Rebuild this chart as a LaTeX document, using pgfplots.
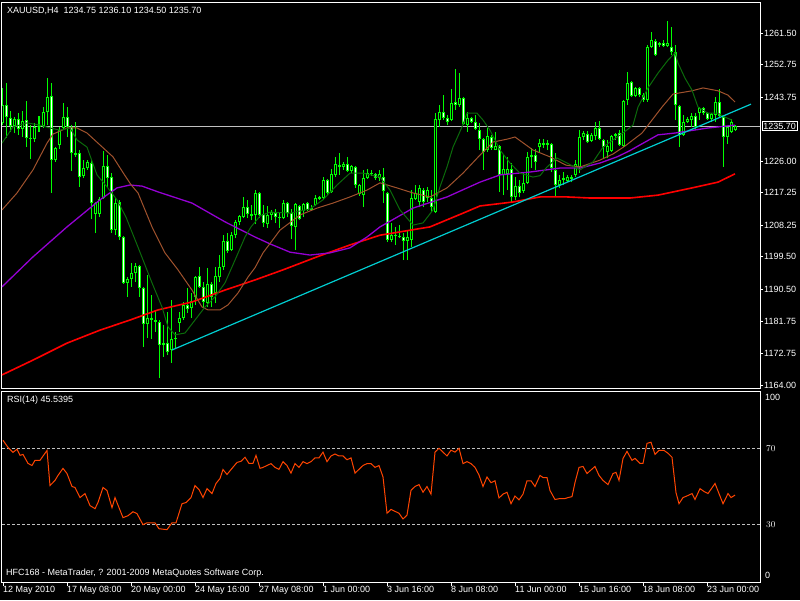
\documentclass[border=0pt]{standalone}
\usepackage{pgfplots}
\usepackage{pgfplotstable}
\pgfplotsset{compat=1.18}
\usepackage{fontspec}
\setmainfont{Liberation Sans}
\definecolor{lime}{HTML}{00FF00}
\definecolor{mafast}{HTML}{0B6A0B}
\definecolor{mamid}{HTML}{A0522D}
\definecolor{maslow}{HTML}{9400D3}
\definecolor{malong}{HTML}{FF0000}
\definecolor{trend}{HTML}{00CED1}
\definecolor{rsicol}{HTML}{FF4500}
\definecolor{silv}{HTML}{C0C0C0}
\newcommand{\mt}{\fontsize{9}{10}\selectfont}

\pgfplotstableread{
i O H L C
0 1236.6 1246.3 1236.0 1241.6
1 1241.6 1247.7 1232.4 1238.2
2 1238.0 1239.9 1234.1 1235.7
3 1235.7 1238.2 1233.8 1237.7
4 1237.7 1239.3 1233.3 1234.9
5 1234.9 1239.9 1232.7 1237.1
6 1237.4 1242.7 1229.9 1232.4
7 1232.4 1236.0 1226.6 1232.1
8 1232.1 1236.6 1231.3 1235.5
9 1235.5 1238.5 1234.1 1235.8
10 1235.7 1241.0 1235.2 1239.6
11 1239.6 1249.0 1236.0 1243.8
12 1244.1 1247.7 1217.2 1226.3
13 1226.3 1229.9 1225.8 1229.7
14 1230.5 1235.5 1229.4 1234.6
15 1235.2 1242.1 1235.0 1238.2
16 1238.2 1241.0 1232.7 1235.5
17 1235.5 1236.0 1223.3 1228.3
18 1228.3 1236.9 1227.2 1227.7
19 1228.3 1229.1 1218.9 1221.6
20 1221.9 1226.3 1221.3 1224.1
21 1224.1 1226.3 1223.6 1225.8
22 1225.5 1226.3 1210.0 1214.4
23 1211.4 1214.7 1206.1 1214.4
24 1211.4 1216.1 1210.5 1215.5
25 1215.8 1228.8 1215.6 1224.7
26 1224.7 1227.7 1218.6 1221.3
27 1221.6 1222.7 1206.1 1206.9
28 1206.9 1215.8 1205.5 1214.4
29 1214.7 1215.3 1204.2 1205.0
30 1205.0 1205.3 1192.0 1192.3
31 1192.3 1193.9 1188.4 1193.4
32 1193.4 1197.8 1191.2 1195.0
33 1195.0 1197.8 1192.5 1197.0
34 1197.0 1197.2 1188.4 1190.9
35 1190.9 1191.2 1174.5 1180.9
36 1180.9 1194.5 1177.0 1182.6
37 1182.6 1188.9 1176.8 1182.0
38 1182.0 1184.8 1178.7 1181.5
39 1181.5 1182.0 1165.9 1175.1
40 1175.1 1180.6 1171.8 1175.6
41 1175.6 1184.2 1172.3 1173.1
42 1173.7 1187.6 1170.1 1176.8
43 1176.8 1178.7 1174.3 1177.1
44 1181.2 1184.2 1178.7 1182.6
45 1182.6 1187.0 1182.0 1186.2
46 1186.2 1190.9 1184.0 1185.1
47 1185.3 1189.5 1182.6 1187.3
48 1188.4 1194.2 1186.2 1194.0
49 1194.2 1196.7 1190.9 1191.2
50 1191.2 1192.5 1185.6 1187.0
51 1186.7 1196.4 1185.6 1192.0
52 1192.0 1192.5 1185.6 1188.4
53 1189.5 1196.7 1186.7 1194.2
54 1193.9 1200.0 1192.5 1196.7
55 1196.7 1205.5 1195.9 1203.9
56 1203.9 1206.1 1200.6 1201.1
57 1201.4 1206.4 1201.1 1205.5
58 1205.5 1209.7 1204.7 1209.2
59 1209.2 1211.1 1208.3 1210.8
60 1210.5 1216.1 1210.3 1213.3
61 1213.3 1215.3 1210.3 1211.4
62 1211.4 1213.9 1209.7 1210.8
63 1211.1 1218.0 1208.6 1217.2
64 1217.2 1217.5 1210.3 1211.1
65 1211.4 1213.9 1207.8 1208.9
66 1208.6 1213.6 1207.5 1211.1
67 1211.1 1212.5 1209.7 1211.9
68 1211.6 1212.8 1208.9 1210.5
69 1210.5 1211.9 1207.5 1210.2
70 1210.3 1215.3 1210.0 1214.4
71 1214.4 1214.7 1210.5 1211.6
72 1211.6 1212.8 1204.4 1208.0
73 1207.8 1214.4 1201.4 1214.1
74 1213.6 1213.9 1209.7 1210.0
75 1212.2 1214.4 1210.5 1214.2
76 1214.4 1214.6 1212.2 1212.5
77 1212.5 1213.9 1212.3 1213.0
78 1213.9 1216.6 1213.6 1215.8
79 1215.5 1216.4 1215.3 1216.1
80 1215.8 1221.6 1215.3 1220.8
81 1220.8 1221.1 1216.6 1217.2
82 1217.5 1223.8 1217.3 1222.5
83 1222.2 1227.2 1221.6 1225.2
84 1224.9 1228.3 1222.2 1224.4
85 1224.4 1225.8 1223.6 1225.2
86 1225.2 1227.2 1223.0 1223.3
87 1223.3 1224.9 1222.7 1224.7
88 1224.4 1224.6 1218.6 1219.4
89 1216.9 1219.6 1216.4 1219.4
90 1216.6 1223.6 1213.3 1221.3
91 1221.3 1223.8 1221.1 1222.7
92 1222.7 1223.6 1221.9 1222.4
93 1222.5 1222.7 1220.8 1221.3
94 1221.3 1223.6 1220.5 1222.5
95 1221.6 1224.1 1214.4 1217.7
96 1217.2 1217.5 1203.6 1204.2
97 1204.2 1208.9 1203.6 1205.5
98 1205.5 1207.8 1202.8 1205.2
99 1205.3 1208.3 1204.7 1205.0
100 1205.0 1206.1 1198.6 1203.9
101 1203.9 1207.0 1198.6 1205.0
102 1204.2 1218.0 1202.2 1215.8
103 1215.5 1219.4 1215.3 1217.2
104 1214.7 1219.4 1213.3 1218.6
105 1218.0 1218.6 1213.3 1214.7
106 1215.8 1218.9 1214.7 1218.0
107 1215.8 1218.0 1211.9 1213.3
108 1211.9 1239.3 1211.6 1237.7
109 1237.4 1241.6 1235.5 1239.6
110 1239.6 1244.3 1237.4 1238.0
111 1238.0 1238.8 1236.0 1236.9
112 1237.4 1246.0 1237.0 1242.1
113 1242.4 1251.5 1240.2 1241.6
114 1241.6 1250.4 1241.0 1243.5
115 1243.5 1243.8 1236.0 1236.2
116 1236.0 1239.6 1234.1 1238.0
117 1238.0 1238.2 1236.6 1236.9
118 1236.9 1238.8 1234.6 1234.8
119 1234.6 1236.6 1229.1 1232.1
120 1232.1 1232.4 1223.6 1228.5
121 1229.1 1235.2 1228.5 1233.0
122 1232.7 1233.3 1229.1 1229.7
123 1229.1 1234.1 1229.0 1230.2
124 1230.2 1230.5 1217.5 1222.2
125 1222.2 1227.7 1216.6 1223.8
126 1222.5 1227.2 1218.0 1223.8
127 1223.8 1225.5 1214.4 1216.1
128 1216.1 1221.6 1215.3 1219.1
129 1219.1 1220.8 1216.1 1217.2
130 1217.7 1223.0 1217.2 1220.0
131 1220.0 1228.5 1219.8 1227.2
132 1227.2 1229.7 1224.1 1227.7
133 1227.7 1229.4 1223.6 1225.8
134 1229.9 1232.1 1228.3 1231.0
135 1231.0 1232.1 1229.7 1230.5
136 1230.5 1231.9 1229.1 1231.0
137 1230.8 1231.0 1223.0 1224.1
138 1223.6 1228.3 1216.1 1219.4
139 1219.4 1222.2 1218.6 1220.8
140 1220.8 1223.0 1219.4 1221.3
141 1220.5 1222.2 1220.2 1221.6
142 1221.1 1222.2 1220.2 1221.6
143 1222.2 1226.3 1221.6 1225.2
144 1224.4 1234.6 1222.7 1232.7
145 1232.7 1234.4 1231.9 1233.8
146 1233.5 1234.4 1231.0 1231.3
147 1231.6 1233.8 1231.3 1233.3
148 1233.0 1236.9 1231.9 1235.2
149 1235.2 1237.1 1231.9 1232.1
150 1231.9 1232.1 1226.9 1229.9
151 1228.5 1231.9 1226.9 1230.2
152 1228.8 1233.3 1228.5 1233.0
153 1233.0 1233.8 1231.9 1233.5
154 1233.8 1234.6 1230.2 1230.4
155 1230.2 1243.0 1230.0 1242.7
156 1242.9 1250.7 1241.6 1247.7
157 1247.9 1248.1 1243.8 1244.1
158 1244.1 1246.6 1243.9 1246.3
159 1246.3 1246.6 1243.8 1244.3
160 1244.3 1244.9 1242.4 1242.9
161 1242.9 1258.2 1242.4 1257.6
162 1257.6 1261.8 1257.4 1259.6
163 1259.3 1259.8 1255.1 1255.4
164 1258.2 1259.0 1257.6 1258.7
165 1258.7 1259.6 1257.6 1257.9
166 1257.9 1264.8 1257.6 1258.7
167 1257.6 1263.2 1255.4 1256.2
168 1256.2 1258.2 1237.4 1241.6
169 1241.3 1241.6 1229.9 1233.3
170 1233.3 1238.8 1233.1 1236.9
171 1236.9 1238.2 1236.7 1237.7
172 1237.4 1239.3 1235.5 1238.5
173 1238.5 1239.3 1234.6 1235.5
174 1239.3 1241.0 1237.4 1240.7
175 1240.7 1241.0 1238.8 1239.3
176 1239.3 1239.6 1237.4 1237.7
177 1237.7 1239.3 1236.9 1239.0
178 1238.8 1243.8 1236.9 1242.4
179 1242.4 1246.0 1238.2 1238.4
180 1238.2 1238.4 1224.4 1232.7
181 1232.7 1235.5 1230.8 1235.5
182 1234.1 1237.7 1233.8 1236.9
183 1234.75 1236.10 1234.50 1235.70
}\candles

\begin{document}
\begin{tikzpicture}[x=1pt,y=1pt]
\fill[black] (0pt,0pt) rectangle (800pt,-600pt);

\begin{axis}[
  at={(2pt,-2pt)}, anchor=north west, scale only axis,
  width=758pt, height=386pt,
  xmin=-0.25, xmax=189.25, ymin=1163.17, ymax=1270.10,
  axis line style={white, line width=1pt},
  xtick=\empty,
  ytick={1164,1172.75,1181.75,1190.5,1199.5,1208.25,1217.25,1226,1243.75,1252.75,1261.5},
  ytick pos=right, yticklabel pos=right,
  tick align=outside, major tick length=3pt,
  tick style={white, line width=0.8pt},
  yticklabel style={text=white, font=\mt, anchor=west, inner sep=0pt, xshift=1pt,
    /pgf/number format/.cd, fixed, fixed zerofill, precision=2, 1000 sep={}, assume math mode=true},
  colormap={wb}{color=(white) color=(black)},
  point meta min=0, point meta max=1,
]
\addplot[silv, line width=0.8pt] coordinates {(-0.25,1235.7) (189.25,1235.7)};
% wicks
\addplot[lime, line width=1pt, -, quiver={u=0, v=\thisrow{H}-\thisrow{L}}] table[x=i, y=L]{\candles};
% bodies (outline)
\addplot[lime, line width=3pt, -, quiver={u=0, v=\thisrow{C}-\thisrow{O}}] table[x=i, y=O]{\candles};
% bodies (inner: white = bear, black = bull)
\addplot[line width=1pt, -, point meta={\thisrow{C}>\thisrow{O}},
  unbounded coords=discard,
  x filter/.expression={abs(\thisrow{C}-\thisrow{O})>0.75 ? x : nan},
  quiver={u=0, v=\thisrow{C}-\thisrow{O}, colored=mapped color,
    every arrow/.append style={shorten >=1pt, shorten <=1pt}}]
  table[x=i, y=O]{\candles};
% slow MA (red)
\addplot[malong, line width=1.6pt] coordinates {(-0.25,1166.8) (7.5,1170.9) (16,1175.6) (24.25,1179.2) (31.75,1182.0) (38.75,1184.8) (47.25,1187.0) (55.5,1190.3) (63,1193.1) (70,1195.9) (78.5,1199.5) (86.75,1202.8) (94.25,1205.5) (106.75,1207.8) (115,1211.6) (119.25,1213.6) (127.5,1214.7) (134.25,1216.1) (141,1216.1) (146.75,1215.8) (156.75,1215.8) (163.75,1216.6) (172.25,1218.6) (178.75,1220.2) (183,1222.5)};
% purple MA
\addplot[maslow, line width=1.3pt] coordinates {(-0.25,1191.2) (7.5,1199.5) (16,1207.8) (24.25,1215.3) (28.5,1218.6) (31.75,1219.4) (34.75,1219.1) (38.75,1217.5) (47.25,1214.4) (55.5,1209.2) (63,1205.0) (66.75,1203.1) (71.75,1200.8) (76.75,1200.0) (81.75,1200.6) (86.75,1202.0) (91,1205.0) (94.25,1207.8) (102.5,1213.0) (111,1216.1) (119.25,1220.2) (124.25,1222.2) (131.75,1223.0) (139.25,1224.1) (144.25,1224.1) (149.25,1225.5) (153.5,1227.2) (156.5,1228.8) (163.75,1233.3) (168,1233.8) (176.25,1235.2) (180.5,1235.7) (183,1236.0)};
% brown MA
\addplot[mamid, line width=1pt] coordinates {(-0.25,1212.5) (3.5,1217.2) (7.5,1223.6) (11,1231.0) (12.5,1233.5) (16,1235.2) (18.5,1235.2) (21,1233.8) (24.25,1230.5) (27.5,1227.2) (30.5,1222.0) (32,1219.5) (33.75,1217.2) (37.25,1207.8) (40.5,1200.6) (43.75,1195.9) (47.25,1190.3) (49.75,1185.6) (51.25,1184.8) (54.25,1184.8) (56.25,1186.2) (58.75,1189.5) (61.25,1193.9) (63,1196.5) (65,1200.6) (69.25,1206.9) (74.25,1211.1) (78.5,1213.0) (82.5,1214.4) (86.75,1216.1) (91,1218.0) (94.25,1220.0) (98.5,1218.6) (102.5,1217.2) (106.75,1216.1) (111,1218.6) (115,1222.7) (119.25,1227.7) (122.5,1231.3) (126,1232.1) (128,1232.7) (132.5,1229.1) (136.75,1227.2) (140.75,1224.9) (144.25,1224.4) (149.25,1226.3) (152.5,1228.0) (155.5,1230.2) (159.75,1233.8) (162.25,1237.4) (164.75,1241.0) (167.5,1244.6) (172.25,1245.5) (175,1246.3) (178.75,1245.5) (181.25,1244.3) (183,1242.4)};
% fast MA (dark green)
\addplot[mafast, line width=1pt] coordinates {(-0.25,1231.0) (2.5,1235.5) (6,1236.6) (9.25,1236.0) (11.75,1235.2) (14.25,1234.6) (16.75,1235.2) (18.5,1231.9) (21,1229.9) (23.5,1222.2) (26,1218.9) (28.5,1215.3) (30.75,1210.5) (33.75,1202.2) (37.25,1192.3) (39.75,1185.6) (41.25,1180.1) (43,1177.9) (45.5,1178.4) (48,1182.0) (50.5,1185.6) (53,1188.4) (55.5,1192.3) (58,1198.6) (60.5,1205.0) (62,1207.8) (64.25,1210.8) (66.75,1211.9) (71.75,1211.6) (76.75,1212.8) (80,1215.3) (83.5,1219.4) (86.75,1222.7) (90,1222.7) (94.25,1221.6) (96.75,1218.0) (99.25,1212.5) (102.5,1208.3) (105,1208.9) (107.5,1212.5) (109.25,1218.9) (111,1224.4) (112.5,1229.9) (114.75,1235.5) (116,1239.3) (118.5,1239.3) (120,1237.4) (121.75,1234.6) (124.25,1229.1) (126.75,1225.5) (129.25,1222.7) (132.5,1221.6) (134.25,1222.0) (136,1224.4) (138.5,1226.9) (141,1225.5) (144.25,1223.6) (147.5,1225.8) (150,1229.9) (152.5,1231.9) (155,1233.8) (157.5,1236.0) (158.75,1241.0) (161.25,1246.3) (163.75,1250.4) (166.25,1254.0) (168,1256.0) (168.75,1253.2) (170.5,1249.0) (172.25,1245.7) (173.75,1241.0) (176.25,1239.3) (178.75,1239.3) (180.5,1238.2) (182.25,1237.4)};
% trend line
\addplot[trend, line width=1.2pt] coordinates {(42.25,1173.7) (187,1241.8)};
\coordinate (cp) at (axis cs:189.25,1235.7);
\end{axis}
\node[draw=white, fill=black, text=white, font=\mt, line width=0.8pt, inner xsep=1.5pt, inner ysep=1.5pt, anchor=west] at ([xshift=1.5pt]cp) {1235.70};

\begin{axis}[
  at={(2pt,-391pt)}, anchor=north west, scale only axis,
  width=758pt, height=191pt,
  xmin=-0.25, xmax=189.25, ymin=0, ymax=100,
  axis line style={white, line width=1pt},
  ytick={30,70}, ytick pos=right, yticklabel pos=right,
  ytick style={draw=none},
  yticklabel style={text=white, font=\mt, anchor=west, inner sep=0pt, xshift=2pt},
  xtick={0,16,32,48,64,80,96,112,128,144,160,176},
  xticklabels={12 May 2010,17 May 08:00,20 May 00:00,24 May 16:00,27 May 08:00,1 Jun 00:00,3 Jun 16:00,8 Jun 08:00,11 Jun 00:00,15 Jun 16:00,18 Jun 08:00,23 Jun 00:00},
  xtick pos=bottom, tick align=outside, major tick length=4pt,
  xtick style={white, line width=0.8pt},
  xticklabel style={text=white, font=\mt, anchor=north west, inner sep=0pt, xshift=0pt},
]
\addplot[silv, line width=0.8pt, dash pattern=on 3pt off 2pt] coordinates {(-0.25,70) (189.25,70)};
\addplot[silv, line width=0.8pt, dash pattern=on 3pt off 2pt] coordinates {(-0.25,30) (189.25,30)};
\addplot[rsicol, line width=1pt] coordinates {(0,74.2)(1.25,70.5)(2.5,67.9)(3.5,69.5)(4.25,66.3)(5,66.8)(6.25,62.1)(7.25,61)(8,63.7)(9.25,63.7)(11,68.9)(11.75,50.5)(13,53.2)(13.75,55.8)(15,59.5)(16,56.8)(17.25,50)(18,49.5)(19.25,44.2)(20.5,46.3)(21.75,40)(23,38.4)(23.75,41.6)(25,49.5)(26,47.9)(27.25,38.9)(28,44.2)(30,33.7)(31.25,34.7)(32.5,36.8)(33.5,35.8)(35,30)(36,31)(38,31)(39,27.9)(41,27.4)(42.25,31)(43.25,31)(44.75,41)(45.75,41.6)(47,44.2)(48,50.5)(49,48.4)(50,44.2)(51,48.9)(52.25,46.3)(53.25,51.6)(54.25,54.2)(55,58.9)(56,56.3)(57.25,59.5)(58.5,62.6)(59.5,63.2)(60.5,65.3)(61.5,62.1)(62.5,62.1)(63.25,66.3)(64.25,59.5)
(65,60)(66,61)(67,62)(68,60)(69,59)(70,63)(71,61)(72,57)(73,62)(74,60)(75,63)(76,62)(77,63)(78,65)(79,65)(80,68)(81,63)(82,66)(83,67)(84,66)(85,66)(86,64)(87,65)(88,57)(89,59)(90,61)(91,62)(92,62)(93,60)(94,61)(95,55)(96,36)(97,38)(98,37)(99,36)(100,33)(101,35)(102,48)(103,50)(104,51)(105,47)(106,50)(107,46)(108,68)(109,70)(110,68)(111,66)(112,69)(113,68)(114,70)(115,62)(116,63)(117,62)(118,60)(119,56)(120,50)(121,55)(122,52)(123,53)(124,44)(125,46)(126,47)(127,41)(128,45)(129,43)(130,46)(131,53)(132,53)(133,50)
(134.25,55.8)(135,54.7)(136,54.7)(136.75,47.9)(138,43.2)(139.25,43.7)(140.5,43.7)(141.25,44.2)(142.25,44.7)(143,52.1)(144,60)(145,60.5)(146,56.8)(148,60.5)(149,55.8)(150,53.2)(151.25,51)(152.5,56.8)(153.25,57.4)(154,53.2)(155,64.7)(156,68.4)(157.25,63.7)(158,64.7)(159.25,62.1)(160,62.1)(161,72.6)(162,73.2)(163,66.8)(164,68.9)(165.25,68.9)(166.25,67.4)(167.25,65.3)(168.25,46.8)(169,41)(170,44.2)(171.25,45.3)(172.25,46.3)(173,43.2)(174.25,48.9)(175.25,47.4)(176.25,46.3)(178,51.6)(179,46.3)(180,41)(181.25,46.3)(182,44.2)(183,45.5)};
\end{axis}

\node[anchor=west, text=white, font=\mt, inner sep=0pt] at (7pt,-10.5pt) {XAUUSD,H4\ \ 1234.75 1236.10 1234.50 1235.70};
\node[anchor=west, text=white, font=\mt, inner sep=0pt] at (7pt,-400.5pt) {RSI(14) 45.5395};
\node[anchor=west, text=white, font=\mt, inner sep=0pt] at (6pt,-573.5pt) {HFC168 - MetaTrader, ? 2001-2009 MetaQuotes Software Corp.};
\node[anchor=west, text=white, font=\mt, inner sep=0pt] at (765pt,-397pt) {100};
\node[anchor=west, text=white, font=\mt, inner sep=0pt] at (765pt,-575pt) {0};

\pgfresetboundingbox
\path (0pt,0pt) rectangle (800pt,-600pt);
\end{tikzpicture}
\end{document}
